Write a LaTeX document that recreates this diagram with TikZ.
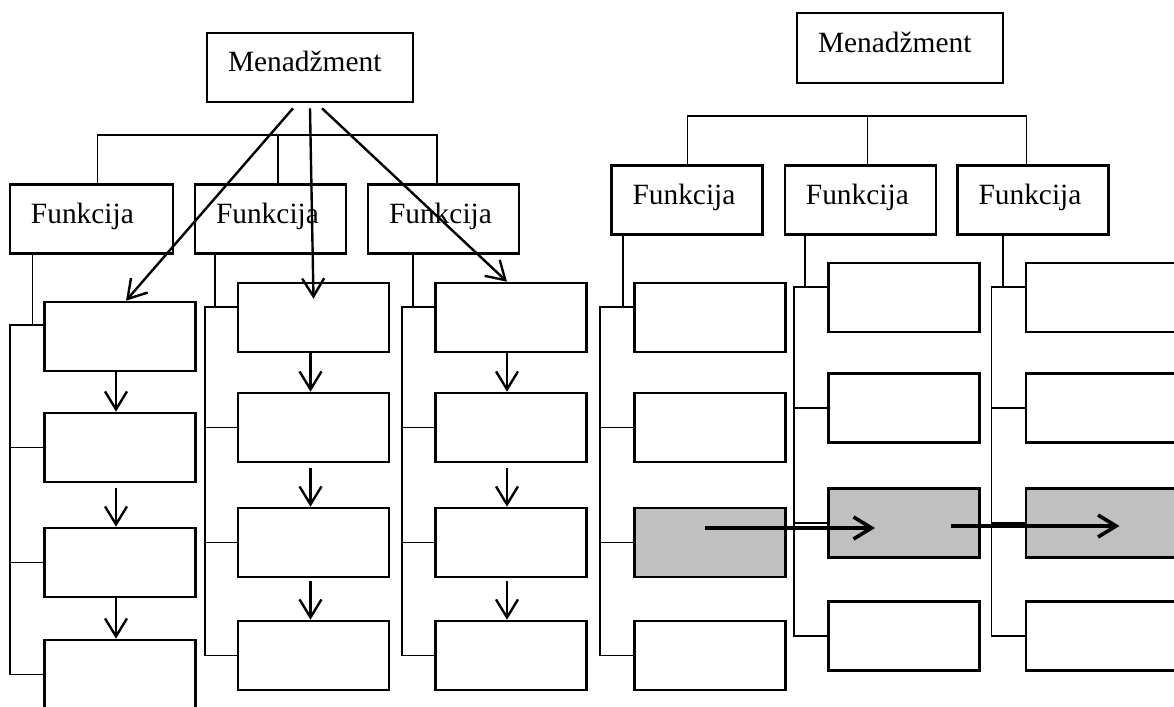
\documentclass[tikz,border=0pt]{standalone}
\usepackage{fontspec}
\setmainfont{Liberation Serif}
\usetikzlibrary{arrows.meta}
\definecolor{shade}{HTML}{C0C0C0}
\begin{document}
\begin{tikzpicture}[x=0.5pt,y=-0.5pt,
	box/.style={draw, line width=1.3pt, minimum width=75.5pt, minimum height=34.5pt, inner sep=0pt},
	titled/.style={box, inner xsep=10.5pt, text width=54.5pt, align=left, text depth=6pt, font=\fontsize{14.7}{17}\selectfont},
	shaded/.style={box, fill=shade},
	link/.style={line width=0.7pt},
	flowarrow/.style={line width=1.2pt, -{Straight Barb[length=9pt,width=11pt]}},
	passarrow/.style={line width=1.8pt, -{Straight Barb[length=9pt,width=11pt]}}]
	\useasboundingbox (0,0) rectangle (1174,707);
	\node[titled, text width=82pt] (M1) at (310,67.5) {Menadžment};
	\node[titled, text width=60.5pt] (F1) at (91.5,219) {Funkcija};
	\node[titled] (F2) at (270.5,219) {Funkcija};
	\node[titled] (F3) at (443.5,219) {Funkcija};
	\node[box] (a1) at (120,336.5) {};
	\node[box] (a2) at (120,447.5) {};
	\node[box] (a3) at (120,562.5) {};
	\node[box] (a4) at (120,674.5) {};
	\node[box] (b1) at (313.5,317.5) {};
	\node[box] (b2) at (313.5,427.5) {};
	\node[box] (b3) at (313.5,542.5) {};
	\node[box] (b4) at (313.5,655.5) {};
	\node[box] (c1) at (511,317.5) {};
	\node[box] (c2) at (511,427.5) {};
	\node[box] (c3) at (511,542.5) {};
	\node[box] (c4) at (511,655.5) {};
	\coordinate (busL1) at (97.6,135);
	\coordinate (busLm) at (278,135);
	\coordinate (busL2) at (437,135);
	\draw[link] (F1.north -| busL1) -- (busL1) -- (busL2) -- (F3.north -| busL2);
	\draw[link] (busLm) -- (F2.north -| busLm);
	\coordinate (sa) at (10,325);
	\coordinate (da) at (32.5,325);
	\draw[link] (F1.south -| da) -- (da);
	\draw[link] (sa -| a1.west) -- (sa) -- (sa |- a4.west) -- (a4.west);
	\draw[link] (sa |- a2.west) -- (a2.west);
	\draw[link] (sa |- a3.west) -- (a3.west);
	\coordinate (sb) at (205,307);
	\coordinate (db) at (215,307);
	\draw[link] (F2.south -| db) -- (db);
	\draw[link] (sb -| b1.west) -- (sb) -- (sb |- b4.west) -- (b4.west);
	\draw[link] (sb |- b2.west) -- (b2.west);
	\draw[link] (sb |- b3.west) -- (b3.west);
	\coordinate (sc) at (402,307);
	\coordinate (dc) at (413,307);
	\draw[link] (F3.south -| dc) -- (dc);
	\draw[link] (sc -| c1.west) -- (sc) -- (sc |- c4.west) -- (c4.west);
	\draw[link] (sc |- c2.west) -- (c2.west);
	\draw[link] (sc |- c3.west) -- (c3.west);
	\draw[flowarrow] ([xshift=-8.5pt,yshift=-2.5pt]M1.south) -- ([xshift=3pt]a1.north);
	\draw[flowarrow] ([yshift=-2.5pt]M1.south) -- ([yshift=-8.5pt]b1.north);
	\draw[flowarrow] ([xshift=6pt,yshift=-2.5pt]M1.south) -- ([xshift=-2pt]c1.north);
	\draw[flowarrow] ([xshift=-2pt]a1.south) -- ([xshift=-2pt]a2.north);
	\draw[flowarrow] ([xshift=-2pt,yshift=-2.5pt]a2.south) -- ([xshift=-2pt]a3.north);
	\draw[flowarrow] ([xshift=-2pt]a3.south) -- ([xshift=-2pt]a4.north);
	\draw[flowarrow] ([xshift=-1.5pt]b1.south) -- ([xshift=-1.5pt]b2.north);
	\draw[flowarrow] ([xshift=-1.5pt,yshift=-2.5pt]b2.south) -- ([xshift=-1.5pt]b3.north);
	\draw[flowarrow] ([xshift=-1.5pt,yshift=-1.5pt]b3.south) -- ([xshift=-1.5pt]b4.north);
	\draw[flowarrow] ([xshift=-2pt]c1.south) -- ([xshift=-2pt]c2.north);
	\draw[flowarrow] ([xshift=-2pt,yshift=-2.5pt]c2.south) -- ([xshift=-2pt]c3.north);
	\draw[flowarrow] ([xshift=-2pt,yshift=-1.5pt]c3.south) -- ([xshift=-2pt]c4.north);
	\node[titled, text width=82pt, minimum height=35pt] (M2) at (900,48) {Menadžment};
	\node[titled] (G1) at (687,200) {Funkcija};
	\node[titled] (G2) at (860.4,200) {Funkcija};
	\node[titled] (G3) at (1033,200) {Funkcija};
	\node[box] (p1) at (709.75,317.5) {};
	\node[box] (p2) at (709.75,427.5) {};
	\node[shaded] (p3) at (709.75,542.5) {};
	\node[box] (p4) at (709.75,655.5) {};
	\node[box] (q1) at (903.8,297.5) {};
	\node[box] (q2) at (903.8,408) {};
	\node[shaded] (q3) at (903.8,523) {};
	\node[box] (q4) at (903.8,636) {};
	\node[box] (r1) at (1101.5,297.5) {};
	\node[box] (r2) at (1101.5,408) {};
	\node[shaded] (r3) at (1101.5,523) {};
	\node[box] (r4) at (1101.5,636) {};
	\coordinate (busR1) at (687.6,116);
	\coordinate (busRm) at (867.5,116);
	\coordinate (busR2) at (1026.5,116);
	\draw[link] (G1.north -| busR1) -- (busR1) -- (busR2) -- (G3.north -| busR2);
	\draw[link] (busRm) -- (G2.north -| busRm);
	\coordinate (sp) at (600,307);
	\coordinate (dp) at (622.8,307);
	\draw[link] (G1.south -| dp) -- (dp);
	\draw[link] (sp -| p1.west) -- (sp) -- (sp |- p4.west) -- (p4.west);
	\draw[link] (sp |- p2.west) -- (p2.west);
	\draw[link] (sp |- p3.west) -- (p3.west);
	\coordinate (sq) at (794,287);
	\coordinate (dq) at (805,287);
	\draw[link] (G2.south -| dq) -- (dq);
	\draw[link] (sq -| q1.west) -- (sq) -- (sq |- q4.west) -- (q4.west);
	\draw[link] (sq |- q2.west) -- (q2.west);
	\draw[link] (sq |- q3.west) -- (q3.west);
	\coordinate (sr) at (991.5,287);
	\coordinate (dr) at (1003,287);
	\draw[link] (G3.south -| dr) -- (dr);
	\draw[link] (sr -| r1.west) -- (sr) -- (sr |- r4.west) -- (r4.west);
	\draw[link] (sr |- r2.west) -- (r2.west);
	\draw[link] (sr |- r3.west) -- (r3.west);
	\draw[passarrow] ([xshift=-2.4pt,yshift=7.25pt]p3.center) -- ([xshift=-14.4pt,yshift=-2.5pt]q3.center);
	\draw[passarrow] ([xshift=23.6pt,yshift=-1.5pt]q3.center) -- ([xshift=9pt,yshift=-1.5pt]r3.center);
\end{tikzpicture}
\end{document}
